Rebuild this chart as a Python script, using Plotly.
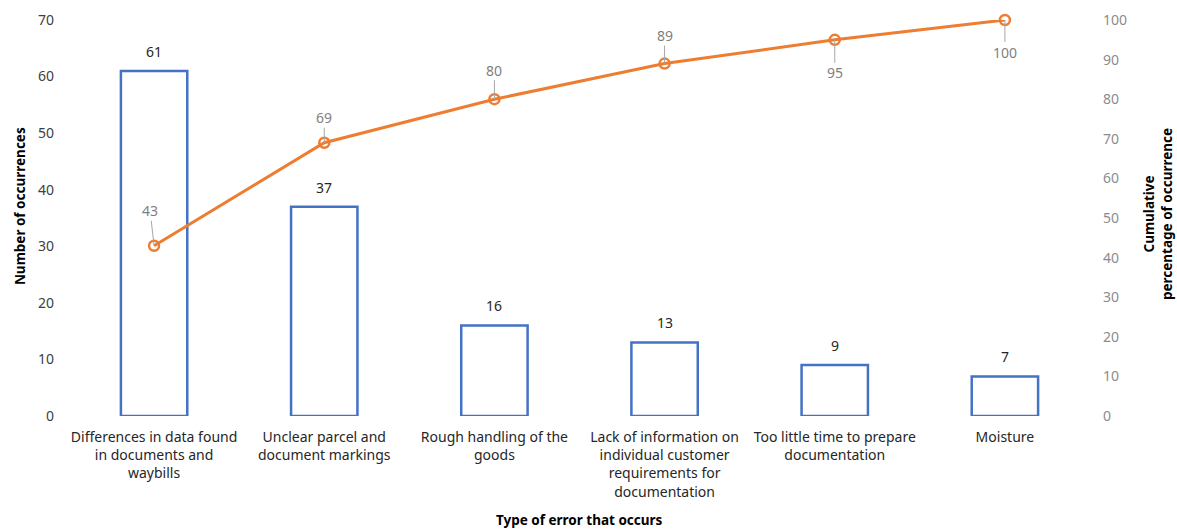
import plotly.graph_objects as go

categories = [
    "Differences in data found<br>in documents and<br>waybills",
    "Unclear parcel and<br>document markings",
    "Rough handling of the<br>goods",
    "Lack of information on<br>individual customer<br>requirements for<br>documentation",
    "Too little time to prepare<br>documentation",
    "Moisture",
]
occurrences = [61, 37, 16, 13, 9, 7]
cumulative_pct = [43, 69, 80, 89, 95, 100]

# pixel offsets of each cumulative label from its marker (leader lines)
label_offsets = [(-4, -35), (0, -25), (0, -29), (0, -28), (0, 33), (0, 32)]

FONT = "Noto Sans"
BLUE = "#4472C4"
ORANGE = "#ED7D31"

fig = go.Figure()

fig.add_trace(go.Bar(
    x=categories,
    y=occurrences,
    marker=dict(color="rgba(255,255,255,0)", line=dict(color=BLUE, width=2.5)),
    yaxis="y",
    showlegend=False,
))

fig.add_trace(go.Scatter(
    x=categories,
    y=cumulative_pct,
    mode="lines+markers",
    line=dict(color=ORANGE, width=3),
    marker=dict(symbol="circle-open", size=10, color=ORANGE, line=dict(width=2.5, color=ORANGE)),
    yaxis="y2",
    cliponaxis=False,
    showlegend=False,
))

annotations = []
# count labels above each bar
for cat, val in zip(categories, occurrences):
    annotations.append(dict(
        x=cat, y=val, xref="x", yref="y", text=str(val), showarrow=False,
        yanchor="bottom", yshift=8,
        font=dict(family=FONT, size=14, color="#262626"),
    ))
# cumulative percentage labels with leader lines
for cat, val, (dx, dy) in zip(categories, cumulative_pct, label_offsets):
    annotations.append(dict(
        x=cat, y=val, xref="x", yref="y2",
        text=str(val), showarrow=True, arrowhead=0, arrowwidth=1,
        arrowcolor="#a6a6a6", ax=dx, ay=dy, standoff=0, borderpad=0,
        font=dict(family=FONT, size=14, color="#7f7f7f"),
    ))

TITLE_FONT = dict(family=FONT, size=13.5, color="#000000")
annotations += [
    dict(text="<b>Number of occurrences</b>", xref="paper", yref="paper",
         x=-0.048, y=0.53, textangle=-90, showarrow=False,
         xanchor="center", yanchor="middle", font=TITLE_FONT),
    dict(text="<b>Cumulative<br>percentage of occurrence</b>", xref="paper", yref="paper",
         x=1.0666, y=0.51, textangle=-90, showarrow=False,
         xanchor="center", yanchor="middle", font=TITLE_FONT),
    dict(text="<b>Type of error that occurs</b>", xref="paper", yref="paper",
         x=0.5, y=-0.263, showarrow=False, yanchor="middle", font=TITLE_FONT),
]

fig.update_layout(
    width=1177, height=529,
    margin=dict(l=69, r=87, t=20, b=113),
    paper_bgcolor="white", plot_bgcolor="white",
    bargap=0.61,
    font=dict(family=FONT, size=14, color="#404040"),
    xaxis=dict(
        range=[-0.5, 5.5], showgrid=False, showline=False, zeroline=False,
        ticks="", tickfont=dict(family=FONT, size=14, color="#262626"),
        ticklabelstandoff=11, automargin=False,
    ),
    yaxis=dict(
        range=[0, 70], dtick=10, showgrid=False, showline=False, zeroline=False,
        tickfont=dict(family=FONT, size=14, color="#404040"), ticklabelstandoff=14,
        automargin=False,
    ),
    yaxis2=dict(
        range=[0, 100], dtick=10, overlaying="y", side="right",
        showgrid=False, showline=False, zeroline=False,
        tickfont=dict(family=FONT, size=14, color="#8c8c8c"), ticklabelstandoff=12,
        automargin=False,
    ),
    annotations=annotations,
)

fig.write_html("out.html")
